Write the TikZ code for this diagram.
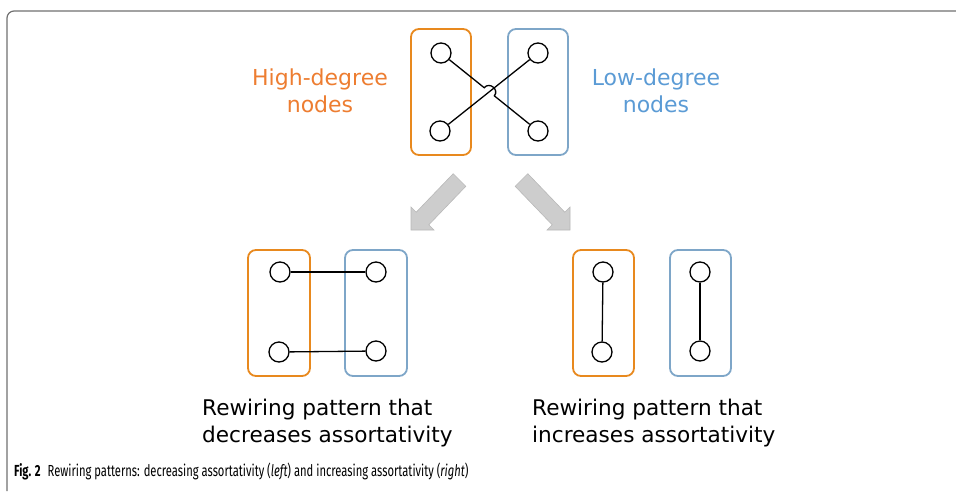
\documentclass[tikz,border=0pt]{standalone}
\usepackage{fontspec}
\setmainfont{DejaVu Sans}
\newfontfamily\capfont[FakeStretch=0.70]{Fira Sans}
\usetikzlibrary{calc}
\definecolor{orbox}{HTML}{E8891E}
\definecolor{blbox}{HTML}{7EA6C8}
\definecolor{ortext}{HTML}{ED7D31}
\definecolor{bltext}{HTML}{5B9BD5}
\definecolor{arrfill}{HTML}{CDCDCD}
\definecolor{arrdraw}{HTML}{B8B8B8}
\definecolor{framec}{HTML}{707070}
\begin{document}
\begin{tikzpicture}[x=1pt,y=-1pt,
  vert/.style={circle,draw,line width=1.3pt,minimum size=20pt,inner sep=0pt},
  obox/.style={draw=orbox,line width=1.8pt,rounded corners=8pt},
  bbox/.style={draw=blbox,line width=1.8pt,rounded corners=8pt},
  edge/.style={line width=1.3pt},
  lbl/.style={font=\fontsize{22}{27}\selectfont,align=center,anchor=base,inner sep=0pt},
  lbll/.style={font=\fontsize{21.6}{27}\selectfont,align=left,anchor=base west,inner sep=0pt},
  bigarrow/.style={fill=arrfill,draw=arrdraw,line width=0.6pt}]
\useasboundingbox (0,0) rectangle (956,491);
% frame
\draw[framec,line width=1.2pt,rounded corners=7pt] (956,11) -- (7,11) -- (7,491);
% top group
\draw[obox] (411,29) rectangle (471,155);
\draw[bbox] (508,29) rectangle (568,155);
\node[vert] (tl) at (441,53) {};
\node[vert] (bl) at (440,131) {};
\node[vert] (tr) at (538,53) {};
\node[vert] (br) at (538,131) {};
\coordinate (X) at (489.3,91.8);
\coordinate (ha) at ($(X)!6.5pt!(tl)$);
\coordinate (hb) at ($(X)!6.5pt!(br)$);
\draw[edge] (tl) -- (ha) to[bend left=90,looseness=1.6] (hb) -- (br);
\draw[edge] (bl) -- (tr);
\node[lbl,text=ortext] (hi) at (320,112) {High-degree\\nodes};
\node[lbl,text=bltext] (lo) at (656,112) {Low-degree\\nodes};
% arrows
\draw[bigarrow] (453.2,173.7) -- (465.8,186.3) -- (428.8,224.8) -- (434,230) -- (411,230) -- (411,207) -- (416.2,212.2) -- cycle;
\draw[bigarrow] (527.8,173.7) -- (515.2,186.3) -- (552.2,224.8) -- (547,230) -- (570,230) -- (570,207) -- (564.8,212.2) -- cycle;
% bottom left
\draw[obox] (248,250) rectangle (310,376);
\draw[bbox] (345,250) rectangle (407,376);
\node[vert] (a1) at (280,272) {};
\node[vert] (a2) at (376,272) {};
\node[vert] (a3) at (279,352) {};
\node[vert] (a4) at (376,351) {};
\draw[edge] (a1) -- (a2);
\draw[edge] (a3) -- (a4);
% bottom right
\draw[obox] (573,250) rectangle (634,376);
\draw[bbox] (670,250) rectangle (731,376);
\node[vert] (b1) at (603,272) {};
\node[vert] (b2) at (602,352) {};
\node[vert] (b3) at (700,272) {};
\node[vert] (b4) at (700,351) {};
\draw[edge] (b1) -- (b2);
\draw[edge] (b3) -- (b4);
\node[lbll] (dec) at (202,442) {Rewiring pattern that\\decreases assortativity};
\node[lbll] (inc) at (532,442) {Rewiring pattern that\\increases assortativity};
% caption
\node[anchor=base west,inner sep=0pt,font=\capfont\fontsize{16}{18}\selectfont] (cap) at (14,476) {\textbf{Fig. 2}\hspace{4pt} Rewiring patterns: decreasing assortativity (\textit{left}) and increasing assortativity (\textit{right})};
\end{tikzpicture}
\end{document}
